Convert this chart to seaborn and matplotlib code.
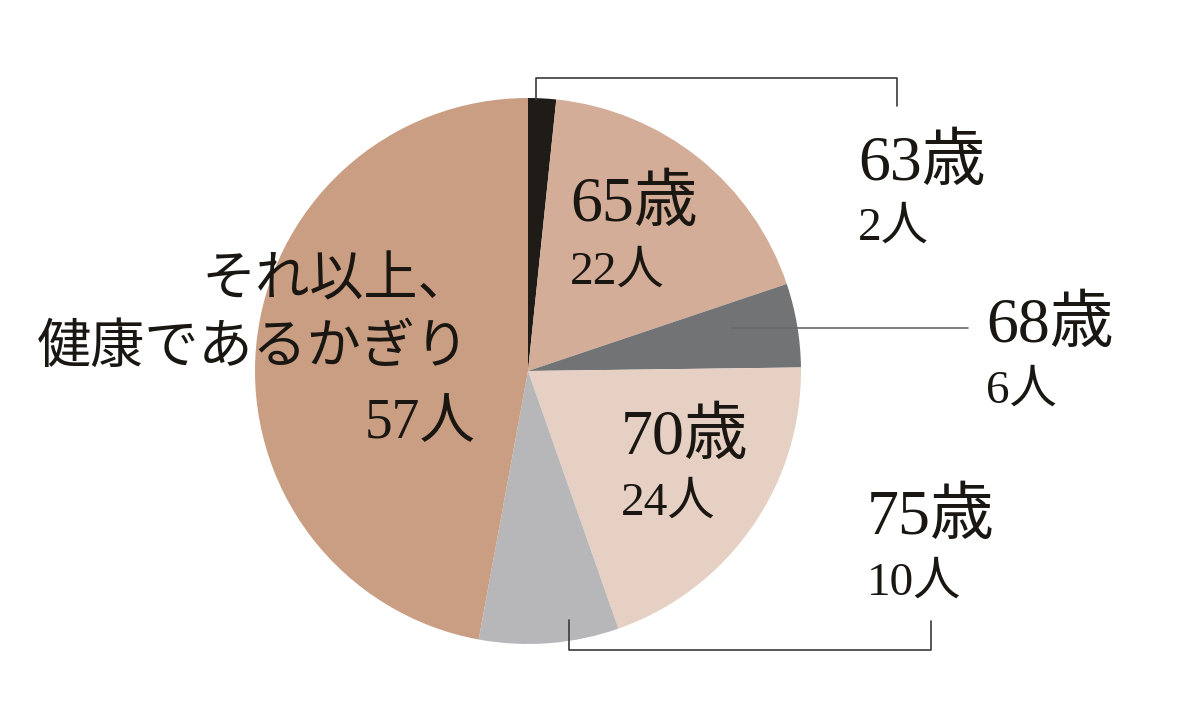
import matplotlib
matplotlib.use("Agg")
import matplotlib.pyplot as plt
import seaborn as sns

sns.set_theme(style="white")
plt.rcParams['font.family'] = ['Liberation Serif', 'Noto Sans CJK JP', 'DejaVu Sans']

# Data
ages = ["63歳", "65歳", "68歳", "70歳", "75歳", "それ以上、\n健康であるかぎり"]
counts = [2, 22, 6, 24, 10, 57]
count_labels = ["2人", "22人", "6人", "24人", "10人", "57人"]
colors = ["#1f1b17", "#d3ad97", "#727374", "#e6d0c3", "#b7b7b9", "#c99e82"]

W, H = 1200, 701
fig = plt.figure(figsize=(12, 7.01), dpi=100)
ax = fig.add_axes([0, 0, 1, 1])
ax.set_xlim(0, W)
ax.set_ylim(0, H)
ax.set_aspect('equal')
ax.axis('off')

def Y(py):
    return H - py

ax.pie(counts, colors=colors, startangle=90, counterclock=False,
       center=(528, Y(371)), radius=273, frame=True,
       wedgeprops=dict(linewidth=0))
ax.set_xlim(0, W)
ax.set_ylim(0, H)
ax.axis('off')

ink = "#1a1612"
big = 46
small = 34

# label positions (pixel coords: x, baseline of age, baseline of count)
pos = {
    0: (858, 180, 240),
    1: (570, 221, 284),
    2: (986, 342, 403),
    3: (621, 454, 515),
    4: (867, 534, 595),
}
for i, (x, yb1, yb2) in pos.items():
    ax.text(x, Y(yb1), ages[i], fontsize=big, color=ink, ha='left', va='baseline')
    ax.text(x, Y(yb2), count_labels[i], fontsize=small, color=ink, ha='left', va='baseline')

# left big label
l1, l2 = ages[5].split("\n")
ax.text(472, Y(282), l1, fontsize=39, color=ink, ha='right', va='center')
ax.text(470, Y(350), l2, fontsize=39, color=ink, ha='right', va='center')
ax.text(476, Y(424), count_labels[5], fontsize=40, color=ink, ha='right', va='center')

# leader lines
lc = "#3a3a3a"
ax.plot([536, 536, 897, 897], [Y(100), Y(78), Y(78), Y(106)], color=lc, lw=1.2)
ax.plot([569, 569, 931, 931], [Y(620), Y(650), Y(650), Y(621)], color=lc, lw=1.2)
ax.plot([731, 968], [Y(328), Y(328)], color="#6a6a6a", lw=1.2)

fig.savefig("out.png", dpi=100, facecolor="white")
